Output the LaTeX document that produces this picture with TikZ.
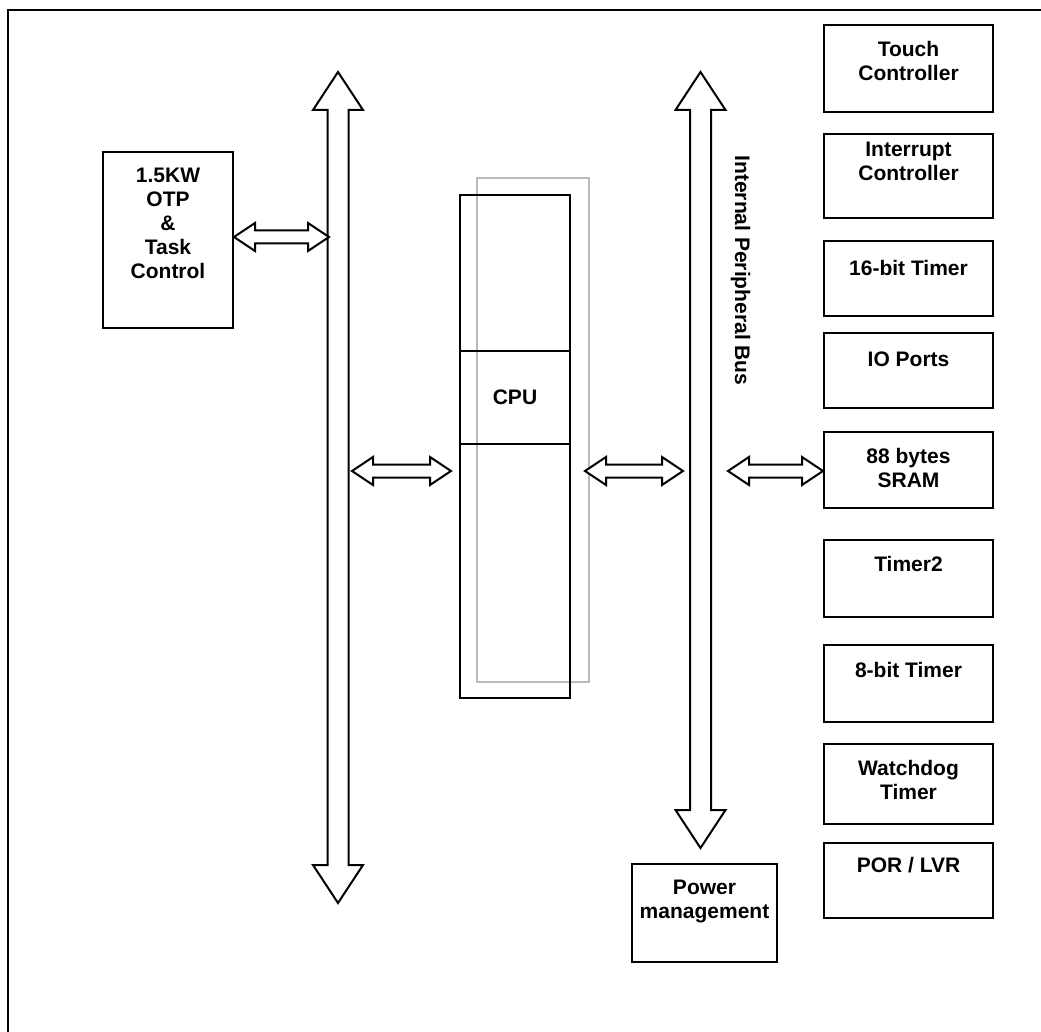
\documentclass[tikz,border=0pt]{standalone}
\usepackage{fontspec}
\setmainfont{Liberation Sans}
\usepackage{tikz}
\usetikzlibrary{calc, positioning}

\tikzset{
  unit/.style = {draw, line width=2pt, minimum width=169pt, inner sep=0pt, anchor=north},
  txt/.style = {font=\fontsize{21}{24}\selectfont\bfseries, align=center, inner sep=0pt, anchor=north},
  % hollow double arrow, left to right
  hlink/.style = {draw, line width=2pt, fill=white, line join=miter, to path={
      let \p1 = (\tikztostart), \p2 = (\tikztotarget) in
      (\x1,\y1) -- (\x1+21pt,\y1+14pt) -- (\x1+21pt,\y1+6.5pt) -- (\x2-21pt,\y1+6.5pt)
      -- (\x2-21pt,\y1+14pt) -- (\x2,\y1) -- (\x2-21pt,\y1-14pt) -- (\x2-21pt,\y1-6.5pt)
      -- (\x1+21pt,\y1-6.5pt) -- (\x1+21pt,\y1-14pt) -- cycle}},
  % hollow double arrow, top to bottom
  vbus/.style = {draw, line width=2pt, fill=white, line join=miter, to path={
      let \p1 = (\tikztostart), \p2 = (\tikztotarget) in
      (\x1,\y1) -- (\x1+25pt,\y1-38pt) -- (\x1+10.5pt,\y1-38pt) -- (\x1+10.5pt,\y2+38pt)
      -- (\x1+25pt,\y2+38pt) -- (\x1,\y2) -- (\x1-25pt,\y2+38pt) -- (\x1-10.5pt,\y2+38pt)
      -- (\x1-10.5pt,\y1-38pt) -- (\x1-25pt,\y1-38pt) -- cycle}}
}

\begin{document}
\begin{tikzpicture} [x=1pt, y=-1pt]
        \useasboundingbox (0,0) rectangle (1041,1032);
        \clip (0,0) rectangle (1041,1032);
        \draw [line width=2pt] (8,10) rectangle (1080,1080);

        % memory
        \node (otp) [unit, minimum width=130pt, minimum height=176pt] at (168,151) {};
        \node (otp-t) [txt] at (168,168) {1.5KW\\OTP\\\&\\Task\\Control};

        % core
        \draw [black!27, line width=2.5pt] (477,178) rectangle (589,682);
        \node (cpu) [unit, minimum width=110pt, minimum height=503pt] at (515,194) {};
        \node (alu) [draw, line width=2pt, minimum width=110pt, minimum height=93pt,
                     font=\fontsize{21}{24}\selectfont\bfseries] at (515,397.5) {CPU};

        % buses
        \coordinate (lbus-n) at (338,72);
        \coordinate (lbus-s) at (338,903);
        \coordinate (rbus-n) at (700.5,72);
        \coordinate (rbus-s) at (700.5,848);
        \coordinate (link) at (0,471);
        \path [vbus] (lbus-n) to (lbus-s);
        \path [vbus] (rbus-n) to (rbus-s);
        \node (bus-t) [txt, anchor=base, rotate=-90] at (735,270.5) {Internal Peripheral Bus};

        % peripherals
        \node (touch) [unit, minimum height=87pt] at (908.5,24) {};
        \node (touch-t) [txt] at (908.5,41) {Touch\\Controller};
        \node (intr) [unit, minimum height=84pt] at (908.5,133) {};
        \node (intr-t) [txt] at (908.5,142) {Interrupt\\Controller};
        \node (tmr16) [unit, minimum height=75pt] at (908.5,240) {};
        \node (tmr16-t) [txt] at (908.5,260) {16-bit Timer};
        \node (io) [unit, minimum height=75pt] at (908.5,332) {};
        \node (io-t) [txt] at (908.5,352) {IO Ports};
        \node (sram) [unit, minimum height=76pt] at (908.5,431) {};
        \node (sram-t) [txt] at (908.5,448) {88 bytes\\SRAM};
        \node (tmr2) [unit, minimum height=77pt] at (908.5,539) {};
        \node (tmr2-t) [txt] at (908.5,556) {Timer2};
        \node (tmr8) [unit, minimum height=77pt] at (908.5,644) {};
        \node (tmr8-t) [txt] at (908.5,662) {8-bit Timer};
        \node (wdt) [unit, minimum height=80pt] at (908.5,743) {};
        \node (wdt-t) [txt] at (908.5,760) {Watchdog\\Timer};
        \node (por) [unit, minimum height=75pt] at (908.5,842) {};
        \node (por-t) [txt] at (908.5,857) {POR / LVR};
        \node (pwr) [unit, minimum width=145pt, minimum height=98pt] at (704.5,863) {};
        \node (pwr-t) [txt] at (704.5,880) {Power\\management};

        \path [hlink]
          ([yshift=3pt]otp.east) to ([xshift=-9pt, yshift=3pt]otp.east -| lbus-n)
          ([xshift=14pt]lbus-n |- link) to ([xshift=-8pt]cpu.west |- link)
          ([xshift=14pt]cpu.east |- link) to ([xshift=-17.5pt]rbus-n |- link)
          ([xshift=27.5pt]rbus-n |- link) to (sram.west |- link);
    \end{tikzpicture}
\end{document}
